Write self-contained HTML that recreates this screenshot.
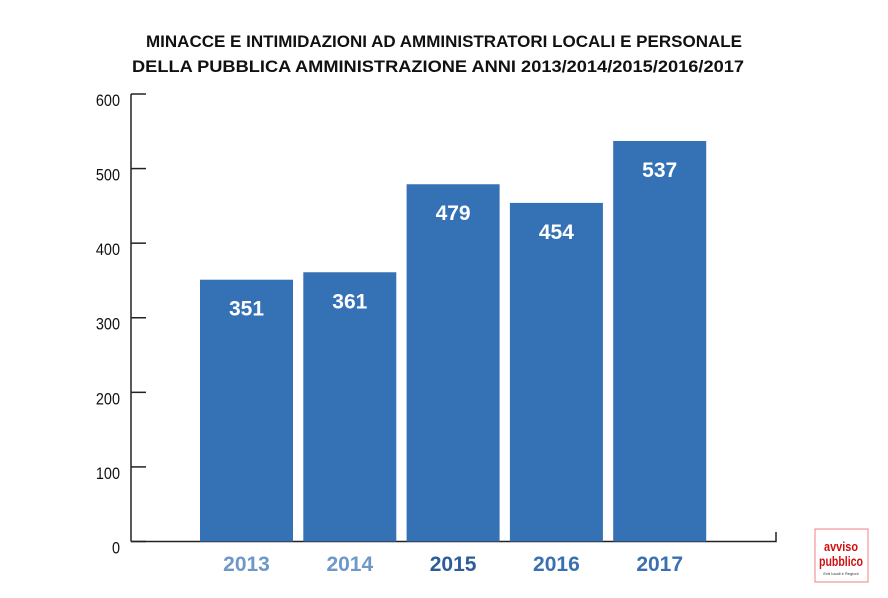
<!DOCTYPE html>
<html><head><meta charset="utf-8"><style>
body{margin:0;background:#fff;}
svg{display:block;font-family:"Liberation Sans",sans-serif;}
</style></head><body>
<svg id="c" width="888" height="598">
<text x="444" y="47" text-anchor="middle" font-size="17" font-weight="bold" fill="#111" textLength="596" lengthAdjust="spacingAndGlyphs">MINACCE E INTIMIDAZIONI AD AMMINISTRATORI LOCALI E PERSONALE</text>
<text x="438" y="72" text-anchor="middle" font-size="17" font-weight="bold" fill="#111" textLength="612" lengthAdjust="spacingAndGlyphs">DELLA PUBBLICA AMMINISTRAZIONE ANNI 2013/2014/2015/2016/2017</text>
<g id="axes"></g>
<g id="bars"></g>
<g>
<rect x="815" y="529" width="53" height="53" fill="#fff" stroke="#f08080" stroke-width="1"/>
<text x="841" y="551" text-anchor="middle" font-size="13" font-weight="bold" fill="#d01010" textLength="34" lengthAdjust="spacingAndGlyphs">avviso</text>
<text x="841" y="566" text-anchor="middle" font-size="14" font-weight="bold" fill="#d01010" textLength="44" lengthAdjust="spacingAndGlyphs">pubblico</text>
<text x="841" y="575" text-anchor="middle" font-size="4" fill="#333">Enti locali e Regioni</text>
</g>
</svg>
<script>
const categories=["2013","2014","2015","2016","2017"];
const values=[351,361,479,454,537];
const yTicks=[0,100,200,300,400,500,600];
const labelColors=["#6e98c8","#6e98c8","#2d5c99","#3a70b2","#3a70b2"];
const ns="http://www.w3.org/2000/svg";
const y0=541.5,yTop=94,yMax=600;
function y(v){return y0-(v/yMax)*(y0-yTop);}
function x(i){return 200+i*103.3;}
const bw=93;
function mk(t,a,p){const e=document.createElementNS(ns,t);for(const k in a)e.setAttribute(k,a[k]);p.appendChild(e);return e;}
const ax=document.getElementById('axes'),bg=document.getElementById('bars');
const yl=mk('line',{x1:131,y1:yTop,x2:131,y2:y0,stroke:'#222','stroke-width':1.5},ax);


const xl=mk('polyline',{points:`131,${y0} 776,${y0} 776,532`,fill:'none',stroke:'#222','stroke-width':1.5},ax);


yTicks.forEach(v=>{
 const tk=mk('line',{x1:131,y1:y(v),x2:146,y2:y(v),stroke:'#222','stroke-width':1.5},ax);
 
 
 const t=mk('text',{x:120,y:y(v)+12,'text-anchor':'end','font-size':17,fill:'#111',transform:`translate(${120*0.15},0) scale(0.85,1)`},ax);
 t.textContent=v;
 
 
});
values.forEach((v,i)=>{
 const r=mk('rect',{x:x(i),y:y(v),width:bw,height:y0-y(v),fill:'#3571b5'},bg);
 
 
 const t=mk('text',{x:x(i)+bw/2,y:y(v)+36,'text-anchor':'middle','font-size':21,'font-weight':'bold',fill:'#fff'},bg);
 t.textContent=v;
 
 
 const c=mk('text',{x:x(i)+bw/2,y:571,'text-anchor':'middle','font-size':21,'font-weight':'bold',fill:labelColors[i]},bg);
 c.textContent=categories[i];
 
 
});
</script>
</body></html>
